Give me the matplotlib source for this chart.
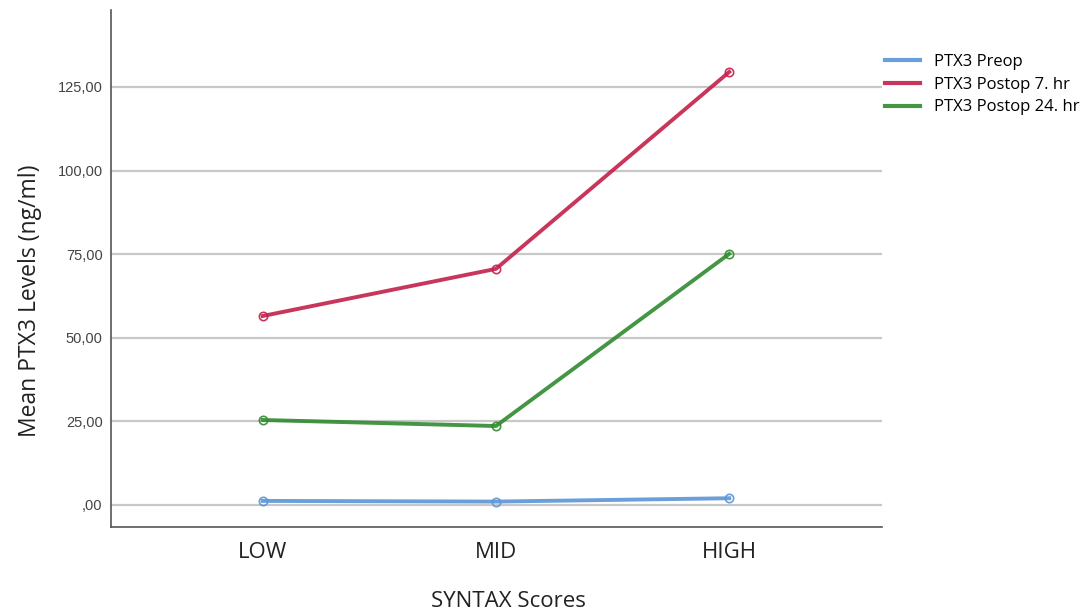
import matplotlib
matplotlib.use('Agg')
import matplotlib.pyplot as plt

categories = ['LOW', 'MID', 'HIGH']
preop = [1.2, 1.0, 2.0]
postop_7hr = [56.5, 70.6, 129.5]
postop_24hr = [25.4, 23.6, 75.1]
yticks = [0, 25, 50, 75, 100, 125]
ytick_labels = [',00', '25,00', '50,00', '75,00', '100,00', '125,00']

series = [
    ('PTX3 Preop', preop, '#5a95d6'),
    ('PTX3 Postop 7. hr', postop_7hr, '#c4204a'),
    ('PTX3 Postop 24. hr', postop_24hr, '#2f8a2f'),
]

fig = plt.figure(figsize=(10.84, 6.11), dpi=100)
ax = fig.add_axes([0.1024, 0.1375, 0.7113, 0.846])

x = list(range(len(categories)))
for label, vals, col in series:
    ax.plot(x, vals, '-', color=col, lw=2.8, label=label, zorder=3,
            marker='o', ms=6, mfc='none', mec=col, mew=1.2, alpha=0.9)

ax.set_xlim(-0.65, 2.655)
ax.set_ylim(-6.6, 148)
ax.set_yticks(yticks)
ax.set_yticklabels(ytick_labels, fontsize=10.5, color='#444444',
                   family='Liberation Sans')
ax.set_xticks(x)
ax.set_xticklabels(categories, fontsize=16, family='Open Sans', color='#222222')
ax.tick_params(axis='both', length=0)
ax.tick_params(axis='y', pad=6)
ax.tick_params(axis='x', pad=11)

for t in yticks:
    ax.axhline(t, color='#c8c8c8', lw=1.6, zorder=1)

for s in ['top', 'right']:
    ax.spines[s].set_visible(False)
ax.spines['left'].set_color('#555555')
ax.spines['bottom'].set_color('#555555')
ax.spines['left'].set_linewidth(1.2)
ax.spines['bottom'].set_linewidth(1.2)

ax.set_ylabel('Mean PTX3 Levels (ng/ml)', fontsize=16.5, family='Open Sans',
              color='#222222', labelpad=11)
ax.yaxis.label.set_y(0.437)
ax.set_xlabel('SYNTAX Scores', fontsize=16, family='Open Sans',
              color='#222222', labelpad=20)
ax.xaxis.label.set_x(0.516)

leg = ax.legend(loc='upper left', bbox_to_anchor=(1.0, 0.922), frameon=False,
                prop={'family': 'Open Sans', 'size': 12}, handlelength=2.1,
                handletextpad=0.8, labelspacing=0.41, borderaxespad=0,
                borderpad=0.2)
for h in leg.legend_handles:
    h.set_marker('')
    h.set_linewidth(3)

fig.savefig('out.png', dpi=100)
